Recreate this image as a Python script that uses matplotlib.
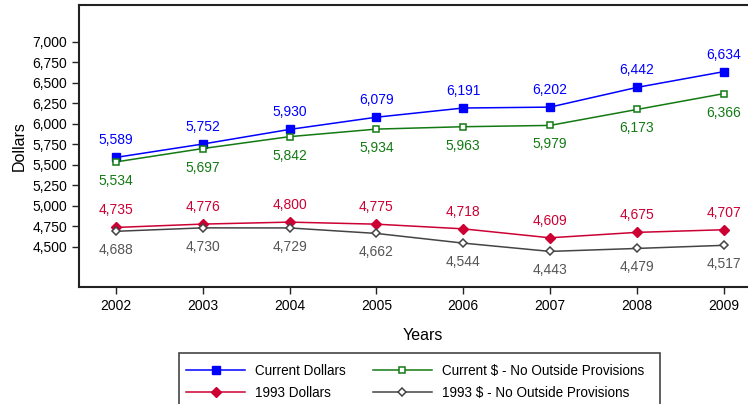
import matplotlib
matplotlib.use("Agg")
import matplotlib.pyplot as plt
from matplotlib.patches import Rectangle

plt.rcParams['font.family'] = ['Liberation Sans', 'DejaVu Sans']

years = [2002, 2003, 2004, 2005, 2006, 2007, 2008, 2009]
current = [5589, 5752, 5930, 6079, 6191, 6202, 6442, 6634]
current_nop = [5534, 5697, 5842, 5934, 5963, 5979, 6173, 6366]
dollars93 = [4735, 4776, 4800, 4775, 4718, 4609, 4675, 4707]
dollars93_nop = [4688, 4730, 4729, 4662, 4544, 4443, 4479, 4517]
yticks = [4500, 4750, 5000, 5250, 5500, 5750, 6000, 6250, 6500, 6750, 7000]

W, H = 748, 404
fig = plt.figure(figsize=(W / 100, H / 100), dpi=100)
# axes run off the right edge, as in the reference
ax = fig.add_axes([79 / W, (H - 287) / H, (767 - 79) / W, (287 - 5) / H])

# values, label, colour, marker, face, size, edge width, label side
series = [
    (current, "Current Dollars", "#0000ff", "s", "#0000ff", 5.8, 1, "above"),
    (dollars93, "1993 Dollars", "#cc0033", "D", "#cc0033", 4.8, 1, "above"),
    (current_nop, "Current $ - No Outside Provisions", "#137a13", "s", "white", 4.0, 1.1, "below"),
    (dollars93_nop, "1993 $ - No Outside Provisions", "#444444", "D", "white", 4.3, 1.1, "below"),
]
text_cols = {"#0000ff": "#0000ff", "#cc0033": "#cc0033", "#137a13": "#137a13", "#444444": "#555555"}

handles = []
for vals, lab, col, mk, fc, ms, mew, where in series:
    h, = ax.plot(years, vals, color=col, lw=1.1, marker=mk, ms=ms,
                 mfc=fc, mec=col, mew=mew, label=lab)
    handles.append(h)
    dy = 17 if where == "above" else -19
    for x, v in zip(years, vals):
        ax.annotate(f"{v:,}", (x, v), xytext=(0, dy), textcoords="offset pixels",
                    ha="center", va="center", fontsize=10, color=text_cols[col])

ax.set_xlim(2001.574, 2009.5)
ax.set_ylim(4009, 7447)
ax.set_xticks(years)
ax.set_yticks(yticks)
ax.set_yticklabels([f"{t:,}" for t in yticks])
ax.tick_params(labelsize=10, length=5, width=1, direction="out", color="#222222")
for s in ax.spines.values():
    s.set_linewidth(1.5)
    s.set_color("#222222")
ax.spines["right"].set_visible(False)

ax.set_ylabel("Dollars", fontsize=11.5, labelpad=4)
ax.set_xlabel("Years", fontsize=11.5, labelpad=11)

leg = fig.legend(handles, [h.get_label() for h in handles], ncol=2,
                 loc="upper left", bbox_to_anchor=(179 / W, 1 - 357 / H),
                 borderaxespad=0, fontsize=9.75, handlelength=4.4,
                 handletextpad=0.7, columnspacing=2.0, labelspacing=0.6,
                 borderpad=0.5, frameon=False)
# legend box is wider than its content in the reference
fig.patches.append(Rectangle((179 / W, 1 - 412 / H), (660 - 179) / W, 59 / H,
                             transform=fig.transFigure, fill=False,
                             edgecolor="#444444", lw=1.2))

fig.savefig("out.png", dpi=100)
